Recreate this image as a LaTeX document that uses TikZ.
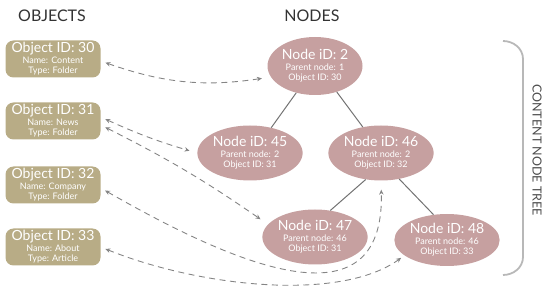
\documentclass[tikz,border=0pt]{standalone}
\usepackage{fontspec}
\setmainfont{Lato}
\usetikzlibrary{arrows.meta,shapes.geometric}

\newcommand{\cardtext}[3]{{\fontsize{14}{14}\selectfont #1}\\[1pt]#2\\#3}

\begin{document}
\begin{tikzpicture}[x=1pt,y=1pt]
  \definecolor{objfill}{RGB}{184,172,134}
  \definecolor{treefill}{RGB}{198,160,160}
  \colorlet{linkgray}{black!48}
  \colorlet{edgegray}{black!55}
  \colorlet{bracegray}{black!28}
  \colorlet{titlegray}{black!80}

  \tikzset{
    objbox/.style={fill=objfill, rounded corners=8pt, minimum width=95pt,
      minimum height=37pt, inner sep=0pt, text=white, align=center,
      font=\fontsize{9}{10}\selectfont},
    treenode/.style={ellipse, fill=treefill, minimum width=95pt,
      minimum height=55pt, inner sep=0pt, text=white, align=center,
      font=\fontsize{9}{10}\selectfont},
    title/.style={text=titlegray, font=\fontsize{16}{16}\selectfont},
    treeedge/.style={draw=edgegray, line width=1pt},
    link/.style={draw=linkgray, line width=0.9pt, dash pattern=on 6pt off 4.5pt,
      {Stealth[length=5pt,width=4.5pt]}-{Stealth[length=5pt,width=4.5pt]}}
  }

  \useasboundingbox (0,0) rectangle (550,292);

  %--- Titles ---
  \node[title] (tobj)  at (52,276) {OBJECTS};
  \node[title] (tnode) at (312,276) {NODES};

  %--- Objects ---
  \node[objbox] (o30) at (53,233) {\cardtext{Object ID: 30}{Name: Content}{Type: Folder}};
  \node[objbox] (o31) at (53,171) {\cardtext{Object ID: 31}{Name: News}{Type: Folder}};
  \node[objbox] (o32) at (53,107) {\cardtext{Object ID: 32}{Name: Company}{Type: Folder}};
  \node[objbox] (o33) at (53,45)  {\cardtext{Object ID: 33}{Name: About}{Type: Article}};

  %--- Content node tree ---
  \node[treenode, minimum height=58pt] (n2) at (315,226) {\cardtext{Node iD: 2}{Parent node: 1}{Object ID: 30}};
  \node[treenode] (n45) at (250,139) {\cardtext{Node iD: 45}{Parent node: 2}{Object ID: 31}};
  \node[treenode] (n46) at (381,139) {\cardtext{Node iD: 46}{Parent node: 2}{Object ID: 32}};
  \node[treenode] (n47) at (315,55)  {\cardtext{Node iD: 47}{Parent node: 46}{Object ID: 31}};
  \node[treenode, minimum height=52pt] (n48) at (447,52) {\cardtext{Node iD: 48}{Parent node: 46}{Object ID: 33}};

  \draw[treeedge] (n2.-125) -- (n45.50);
  \draw[treeedge] (n2.-50)  -- (n46.125);
  \draw[treeedge] (n46.-120) -- (n47.60);
  \draw[treeedge] (n46.-55) -- (n48.118);

  %--- Object <-> node links ---
  \draw[link, shorten <=5pt, shorten >=9pt] ([yshift=-2pt]o30.east) to[bend right=14] (n2.194);
  \draw[link, shorten <=5pt, shorten >=8pt] ([yshift=4pt]o31.east) to[bend right=4] (n45.west);
  \draw[link, shorten <=5pt, shorten >=9pt] ([yshift=-4pt]o31.east) to[bend left=4] (n47.165);
  \draw[link, shorten <=5pt, shorten >=9pt] ([yshift=-3pt]o32.east)
    .. controls (230,30) and (385,-40) .. (n46.south);
  \draw[link, shorten <=5pt, shorten >=4pt] (o33.east)
    .. controls (200,5) and (340,-10) .. (n48.200);

  %--- Bracket ---
  \draw[bracegray, line width=1.8pt] (503,251) to[out=0, in=90] (523,233)
    -- (523,35) to[out=-90, in=0] (503,17);
  \node[rotate=-90, text=black!70, font=\fontsize{12.5}{12.5}\selectfont] (treelabel) at (537,142) {CONTENT NODE TREE};
\end{tikzpicture}
\end{document}
